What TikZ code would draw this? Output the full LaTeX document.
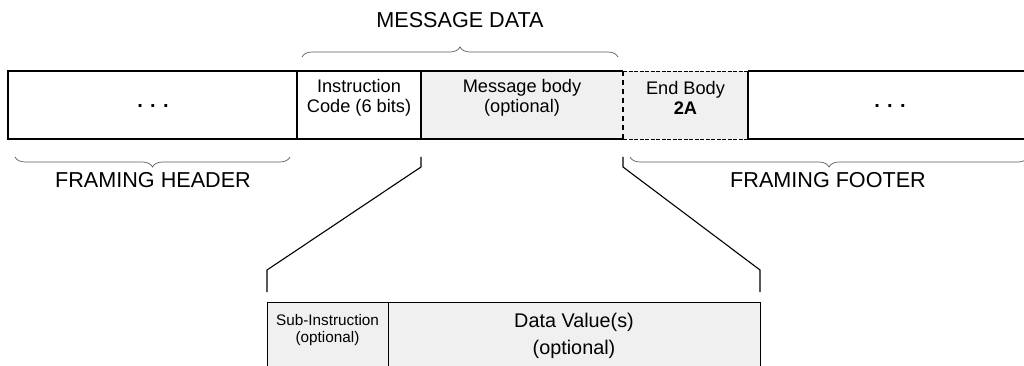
\documentclass[tikz,border=0pt]{standalone}
\usepackage{fontspec}
\setmainfont{Liberation Sans}
\usetikzlibrary{decorations.pathreplacing}
\definecolor{cellgray}{RGB}{240,240,240}
\definecolor{bracegray}{RGB}{90,90,90}
\begin{document}
\begin{tikzpicture}[x=1pt,y=-1pt,
  cellline/.style={draw=black,line width=1.2pt},
  celltxt/.style={align=center,font=\fontsize{18.2}{20.5}\selectfont,inner sep=0pt},
  lbl/.style={font=\fontsize{21.6}{25}\selectfont,inner sep=0pt},
  bracestyle/.style={draw=bracegray,line width=0.7pt,decorate,decoration={brace,amplitude=10pt}},
  zoomline/.style={draw=black,line width=1.1pt},
  dotstxt/.style={font=\fontsize{20}{24}\selectfont\bfseries,inner sep=0pt}]
\useasboundingbox (0,0) rectangle (1024,366);
% cells of the top row
\fill[cellgray] (421,71) rectangle (748,139);
\coordinate (rowNW) at (8,71);
\coordinate (rowSW) at (8,139);
\coordinate (rowNE) at (1040,71);
\coordinate (rowSE) at (1040,139);
\coordinate (instrN) at (297,71);  \coordinate (instrS) at (297,139);
\coordinate (bodyN) at (421,71);   \coordinate (bodyS) at (421,139);
\coordinate (endN) at (623,71);    \coordinate (endS) at (623,139);
\coordinate (footN) at (748,71);   \coordinate (footS) at (748,139);
\draw[cellline] (endN) -- (rowNW) -- (rowSW) -- (endS);
\draw[cellline] (footN) -- (rowNE);
\draw[cellline] (footS) -- (rowSE);
\draw[black,line width=0.8pt,dash pattern=on 4pt off 1.5pt] (endN) -- (footN);
\draw[black,line width=0.8pt,dash pattern=on 4pt off 1.5pt] (endS) -- (footS);
\draw[cellline] (instrN) -- (instrS);
\draw[cellline] (bodyN) -- (bodyS);
\draw[cellline] (footN) -- (footS);
\draw[black,line width=1.6pt,dash pattern=on 5pt off 4pt] (endN) -- (endS);
% texts
\node[dotstxt] (hdots) at (153,106) {. . .};
\node[dotstxt] (fdots) at (890,106) {. . .};
\node[celltxt] (instr) at (359,98) {Instruction\\Code (6 bits)};
\node[celltxt] (body) at (522,98) {Message body\\(optional)};
\node[celltxt] (endb) at (685.5,98) {End Body\\\textbf{2A}};
% braces
\coordinate (mdL) at (302,57); \coordinate (mdR) at (618,57);
\draw[bracestyle] (mdL) -- (mdR);
\node[lbl] (mdata) at (460,20) {MESSAGE DATA};
\coordinate (fhL) at (15,157); \coordinate (fhR) at (290,157);
\draw[bracestyle,decoration={mirror}] (fhL) -- (fhR);
\node[lbl] (fheader) at (153,180) {FRAMING HEADER};
\coordinate (ffL) at (630,157); \coordinate (ffR) at (1028,157);
\draw[bracestyle,decoration={mirror}] (ffL) -- (ffR);
\node[lbl] (ffooter) at (828,180) {FRAMING FOOTER};
% zoom lines
\coordinate (zl1) at (421,157); \coordinate (zl2) at (421,167);
\coordinate (zl3) at (267,270); \coordinate (zl4) at (267,292);
\coordinate (zr1) at (623,157); \coordinate (zr2) at (623,167);
\coordinate (zr3) at (760,270); \coordinate (zr4) at (760,292);
\draw[zoomline] (zl1) -- (zl2) -- (zl3) -- (zl4);
\draw[zoomline] (zr1) -- (zr2) -- (zr3) -- (zr4);
% bottom boxes
\node[cellline,fill=cellgray,anchor=north west,minimum width=121pt,minimum height=90pt,inner sep=0pt] (subbox) at (267,302) {};
\node[cellline,fill=cellgray,anchor=north west,minimum width=372pt,minimum height=90pt,inner sep=0pt] (databox) at (388,302) {};
\node[align=center,font=\fontsize{15.3}{16.5}\selectfont,inner sep=0pt] (subtxt) at (327.5,330) {Sub-Instruction\\(optional)};
\node[align=center,font=\fontsize{19.8}{27}\selectfont,inner sep=0pt] (datatxt) at (574,336) {Data Value(s)\\(optional)};
\end{tikzpicture}
\end{document}
